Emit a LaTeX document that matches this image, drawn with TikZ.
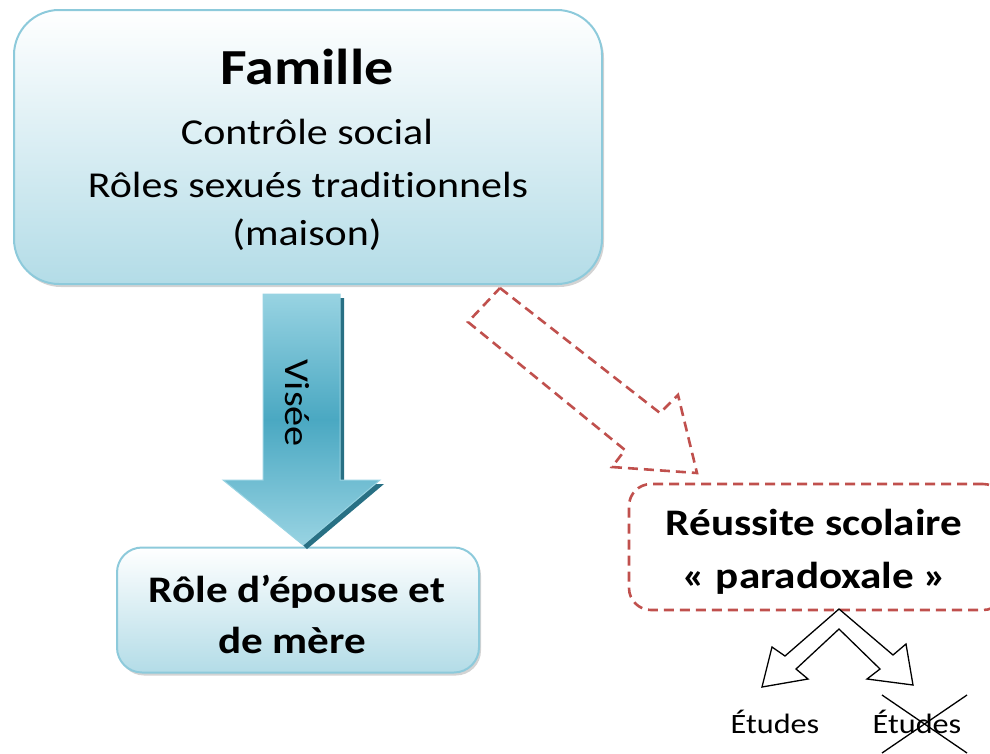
\documentclass[tikz,border=0pt]{standalone}
\usepackage{fontspec}
\setmainfont{Carlito}[FakeStretch=1.15, Ligatures=NoCommon]
\usetikzlibrary{shadows}
\definecolor{boxline}{RGB}{141,202,219}
\definecolor{boxfill}{RGB}{179,220,231}
\definecolor{arrowlight}{RGB}{152,211,226}
\definecolor{arrowdark}{RGB}{74,168,194}
\definecolor{arrowshadow}{RGB}{40,112,132}
\definecolor{dashred}{RGB}{192,80,77}
\tikzset{
  bluebox/.style={draw=boxline, line width=2pt, top color=white, bottom color=boxfill,
    drop shadow={shadow xshift=2pt, shadow yshift=-3pt, opacity=0.35}},
  redline/.style={draw=dashred, line width=2.6pt, dash pattern=on 10pt off 6pt},
  txt/.style={anchor=base, inner sep=0pt},
  bigtxt/.style={txt, font=\fontsize{36.5}{44}\selectfont},
  boldtxt/.style={txt, font=\bfseries\fontsize{37.5}{44}\selectfont},
}
\begin{document}
\begin{tikzpicture}[x=1pt,y=-1pt]
    \useasboundingbox (0,0) rectangle (990,753);
    \clip (0,0) rectangle (990,753);
    % boxes
    \node[bluebox, rounded corners=45pt, minimum width=588pt, minimum height=274pt] (famille) at (308,147) {};
    \node[bluebox, rounded corners=25pt, minimum width=362pt, minimum height=125pt] (role) at (298,610) {};
    \node[redline, rounded corners=22pt, minimum width=376pt, minimum height=126pt] (reussite) at (817,547) {};
    % texts
    \node[txt, font=\bfseries\fontsize{50.5}{60}\selectfont] (famtitre) at (307,84) {Famille};
    \node[bigtxt] (controle) at (307,144) {Contrôle social};
    \node[bigtxt] (roles) at (308,197) {Rôles sexués traditionnels};
    \node[bigtxt] (maison) at (307,245) {(maison)};
    \node[boldtxt] (roleA) at (297,602) {Rôle d’épouse et};
    \node[boldtxt] (roleB) at (292,653) {de mère};
    \node[boldtxt] (reussA) at (814,535) {Réussite scolaire};
    \node[boldtxt] (reussB) at (815,588) {« paradoxale »};
    \node[txt, font=\fontsize{28}{34}\selectfont] (etudesoui) at (775,733) {Études};
    \node[txt, font=\fontsize{28}{34}\selectfont] (etudesnon) at (917,733) {Études};
    % arrow Visee
    \fill[arrowshadow] (267,298) -- (344,298) -- (344,484) -- (384,484) -- (307,549) -- (303,545) -- cycle;
    \shade[top color=arrowlight, bottom color=arrowlight, middle color=arrowdark, draw=arrowlight, line width=1pt]
        (263,294) -- (340,294) -- (340,480) -- (380,480) -- (303,545) -- (223,480) -- (263,480) -- cycle;
    \node[rotate=-90, font=\fontsize{35}{42}\selectfont, inner sep=0pt] (visee) at (297,403) {Visée};
    % dashed arrow
    \draw[redline] (500,288) -- (660,413) -- (678,395) -- (697,473) -- (612,467) -- (625,450) -- (468,322) -- cycle;
    % split arrow
    \draw[fill=white, line width=1.3pt] (839,609) -- (893,655) -- (906,644) -- (913,685) -- (867,679) -- (880,669)
        -- (839,629) -- (796,669) -- (808,679) -- (762,687) -- (772,647) -- (785,656) -- cycle;
    % cross
    \draw[line width=1.3pt] (882,695) -- (967,753);
    \draw[line width=1.3pt] (967,695) -- (882,753);
\end{tikzpicture}
\end{document}
